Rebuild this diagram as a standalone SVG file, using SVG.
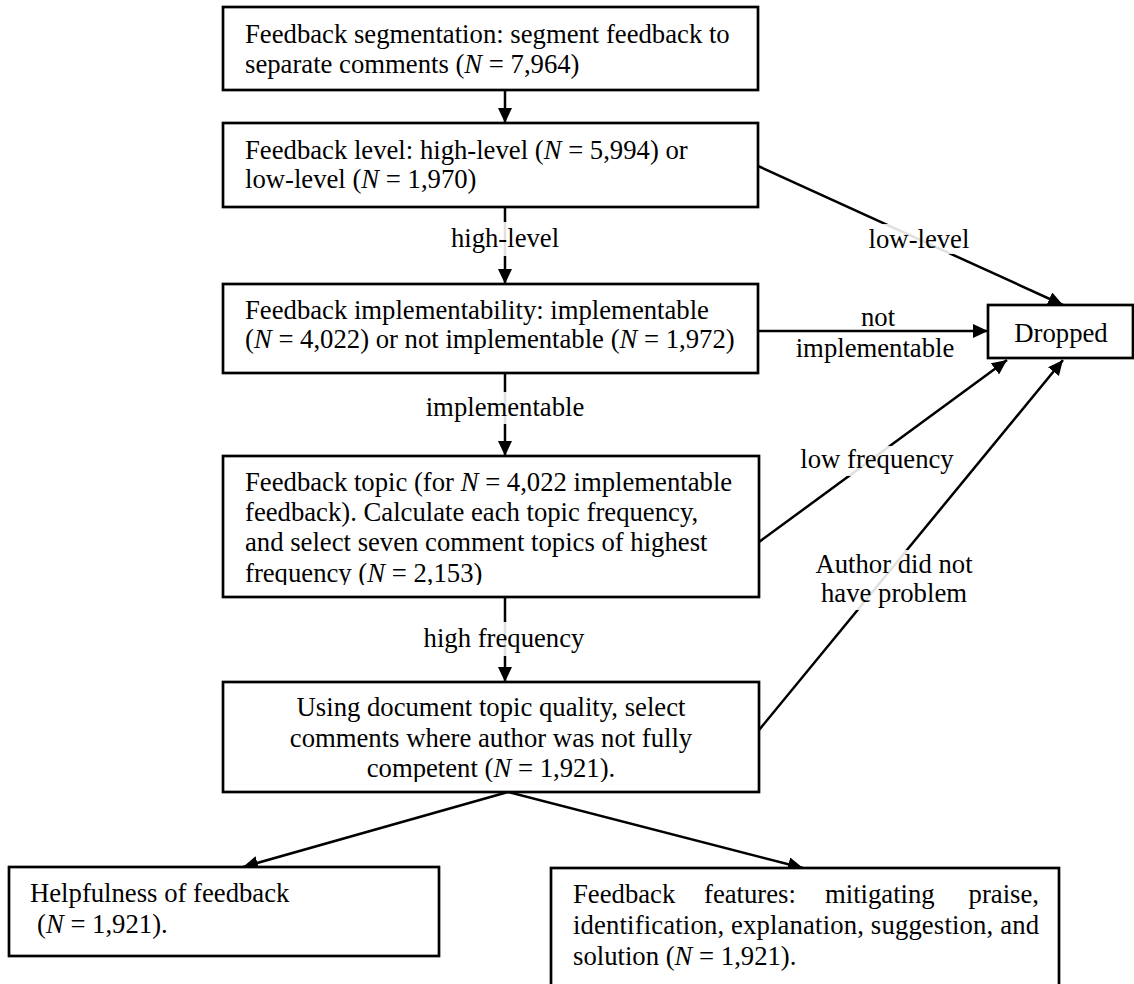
<svg xmlns="http://www.w3.org/2000/svg" width="1134" height="984" viewBox="0 0 1134 984">
  <style>
    text { font-family: "Liberation Serif", "Times New Roman", serif; font-size: 26.7px; fill: #000; }
    .box { fill: #fff; stroke: #000; stroke-width: 2.7; }
    .link { fill: none; stroke: #000; stroke-width: 2.5; marker-end: url(#head); }
    .lbl-bg { fill: #fff; fill-opacity: 0.88; }
    .c { text-anchor: middle; }
    .e { text-anchor: end; }
    .i { font-style: italic; }
  </style>
  <defs>
    <marker id="head" markerUnits="userSpaceOnUse" markerWidth="16" markerHeight="14" refX="15" refY="7" orient="auto">
      <path d="M0,0 L15,7 L0,14 z" fill="#000"/>
    </marker>
    <clipPath id="clip-topic"><rect x="223" y="456" width="536" height="129"/></clipPath>
    <clipPath id="clip-quality"><rect x="223" y="682" width="536" height="100"/></clipPath>
  </defs>

  <rect width="1134" height="984" fill="#fff"/>

  <!-- connectors -->
  <g id="connectors">
    <line class="link" x1="505" y1="90" x2="505" y2="123"/>
    <line class="link" x1="505" y1="207" x2="505" y2="284"/>
    <line class="link" x1="505" y1="373" x2="505" y2="456"/>
    <line class="link" x1="505" y1="597" x2="505" y2="682"/>
    <line class="link" x1="758" y1="166" x2="1063" y2="305"/>
    <line class="link" x1="758" y1="331" x2="988" y2="331"/>
    <line class="link" x1="759" y1="542" x2="1007" y2="360"/>
    <line class="link" x1="759" y1="730" x2="1063" y2="360"/>
    <line class="link" x1="508" y1="792" x2="243" y2="867"/>
    <line class="link" x1="508" y1="792" x2="803" y2="868"/>

    <!-- edge labels -->
    <rect class="lbl-bg" x="452" y="222" width="106" height="34"/>
    <text class="c" x="505" y="247">high-level</text>
    <rect class="lbl-bg" x="428" y="392" width="154" height="32"/>
    <text class="c" x="505" y="416">implementable</text>
    <rect class="lbl-bg" x="426" y="622" width="156" height="34"/>
    <text class="c" x="504" y="647">high frequency</text>
    <rect class="lbl-bg" x="870" y="224" width="100" height="30"/>
    <text class="c" x="919" y="248">low-level</text>
    <text class="c" x="878" y="326">not</text>
    <text class="c" x="875" y="357">implementable</text>
    <rect class="lbl-bg" x="800" y="446" width="154" height="30"/>
    <text class="c" x="877" y="468">low frequency</text>
    <rect class="lbl-bg" x="815" y="550" width="158" height="60"/>
    <text class="c" x="894" y="573">Author did not</text>
    <text class="c" x="894" y="602">have problem</text>
  </g>

  <!-- nodes -->
  <g id="segmentation">
    <rect class="box" x="223" y="7" width="535" height="83"/>
    <text x="245" y="43">Feedback segmentation: segment feedback to</text>
    <text x="245" y="73">separate comments (<tspan class="i">N</tspan> = 7,964)</text>
  </g>

  <g id="level">
    <rect class="box" x="223" y="123" width="535" height="84"/>
    <text x="245" y="159">Feedback level: high-level (<tspan class="i">N</tspan> = 5,994) or</text>
    <text x="245" y="188">low-level (<tspan class="i">N</tspan> = 1,970)</text>
  </g>

  <g id="implementability">
    <rect class="box" x="223" y="284" width="535" height="89"/>
    <text x="245" y="319">Feedback implementability: implementable</text>
    <text x="245" y="348">(<tspan class="i">N</tspan> = 4,022) or not implementable (<tspan class="i">N</tspan> = 1,972)</text>
  </g>

  <g id="topic">
    <rect class="box" x="223" y="456" width="536" height="141"/>
    <g clip-path="url(#clip-topic)">
      <text x="245" y="491">Feedback topic (for <tspan class="i">N</tspan> = 4,022 implementable</text>
      <text x="245" y="521">feedback). Calculate each topic frequency,</text>
      <text x="245" y="551">and select seven comment topics of highest</text>
      <text x="245" y="582">frequency (<tspan class="i">N</tspan> = 2,153)</text>
    </g>
  </g>

  <g id="quality">
    <rect class="box" x="223" y="682" width="536" height="110"/>
    <g clip-path="url(#clip-quality)">
      <text class="c" x="491" y="716">Using document topic quality, select</text>
      <text class="c" x="491" y="747">comments where author was not fully</text>
      <text class="c" x="491" y="777">competent (<tspan class="i">N</tspan> = 1,921).</text>
    </g>
  </g>

  <g id="dropped">
    <rect class="box" x="988" y="305" width="145" height="53"/>
    <text class="c" x="1061" y="342">Dropped</text>
  </g>

  <g id="helpfulness">
    <rect class="box" x="9" y="867" width="430" height="89"/>
    <text x="30" y="902">Helpfulness of feedback</text>
    <text x="37" y="933">(<tspan class="i">N</tspan> = 1,921).</text>
  </g>

  <g id="features">
    <rect class="box" x="551" y="868" width="508" height="140"/>
    <!-- justified paragraph: first two lines stretched to the column width -->
    <text x="573" y="903">Feedback</text>
    <text x="704" y="903">features:</text>
    <text x="825" y="903">mitigating</text>
    <text class="e" x="1039" y="903">praise,</text>
    <text x="573" y="934" textLength="466" lengthAdjust="spacing">identification, explanation, suggestion, and</text>
    <text x="573" y="965">solution (<tspan class="i">N</tspan> = 1,921).</text>
  </g>
</svg>
